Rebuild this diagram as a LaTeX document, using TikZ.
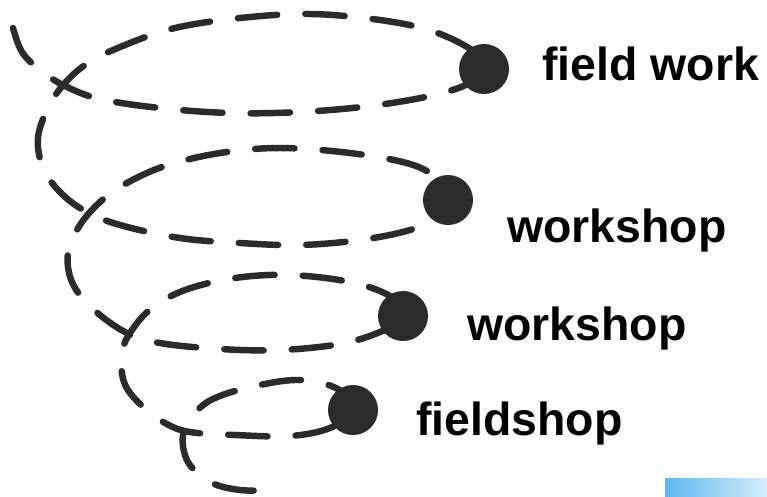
\documentclass[tikz,border=0pt]{standalone}
\usepackage{fontspec}
\setmainfont{Liberation Sans}

\definecolor{ink}{HTML}{2B2B2B}
\definecolor{photoblue}{HTML}{5DB8F0}
\definecolor{photopale}{HTML}{D6ECFA}

\tikzset{
	spiral/.style={ink, line width=4.6pt, line cap=round, dash pattern=on 28pt off 20pt},
	bead/.style={circle, fill=ink, inner sep=0pt, minimum size=1.25cm},
	looptext/.style={font=\fontsize{33}{38}\selectfont\bfseries, anchor=base west, inner sep=0pt}
}

\begin{document}
\begin{tikzpicture}[x=0.025cm, y=-0.025cm]
	\useasboundingbox (0,0) rectangle (767,496);
	%spiral
		\draw[spiral] plot[smooth, tension=0.6] coordinates {
			(13,28) (22,52) (40,70) (65,86) (100,99) (160,108) (230,113) (300,112) (370,106) (430,96) (468,84) (488,68)
			(472,50) (432,31) (380,20) (310,14) (240,18) (175,28) (125,45) (88,63) (64,84)
			(48,108) (38,138) (43,168) (60,192) (85,211) (120,225) (180,238) (240,243) (300,245) (360,240) (410,230) (440,216) (455,199)
			(440,180) (410,164) (350,153) (280,148) (220,153) (165,166) (125,184) (100,202) (80,225)
			(68,252) (72,282) (92,308) (125,332) (160,343) (220,349) (280,350) (340,344) (380,332) (408,316)
			(390,296) (350,282) (290,275) (235,278) (185,290) (152,308) (132,330)
			(122,352) (124,382) (140,404) (165,423) (190,432) (235,435) (290,436) (330,428) (356,410)
			(338,389) (300,380) (255,386) (215,398) (195,413) (183,435)
			(188,462) (210,482) (240,490) (275,490)};
	%end points of the loops
		\node[bead] (d1) at (484,69) {};
		\node[bead] (d2) at (448,200) {};
		\node[bead] (d3) at (403,316) {};
		\node[bead] (d4) at (353,410) {};
	%labels
		\node[looptext] (fieldwork) at (542,80) {field work};
		\node[looptext] (workshopA) at (507,242) {workshop};
		\node[looptext] (workshopB) at (467,340) {workshop};
		\node[looptext] (fieldshop) at (416,435) {fieldshop};
	%bit of photo in the corner
		\shade[left color=photoblue, right color=photopale] (665,478) rectangle (767,496);
\end{tikzpicture}
\end{document}
